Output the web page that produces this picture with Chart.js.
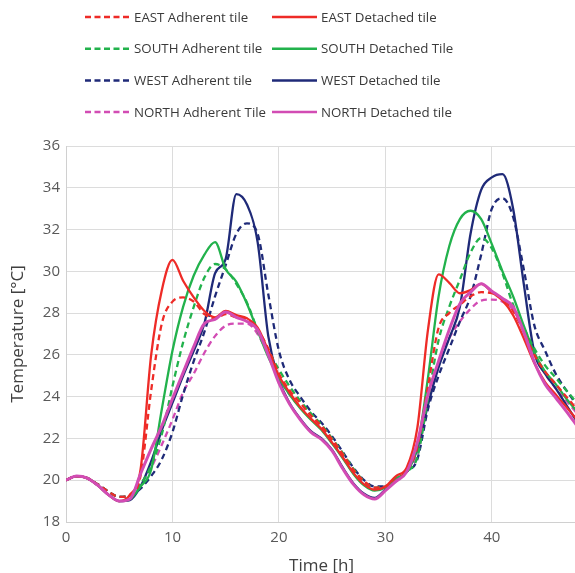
<!DOCTYPE html>
<html>
<head>
<meta charset="utf-8">
<script src="https://cdn.jsdelivr.net/npm/chart.js@4/dist/chart.umd.min.js"></script>
<style>
  html, body { margin: 0; padding: 0; background: #fff; overflow: hidden; }
  #wrap { position: relative; width: 577px; height: 580px; }
</style>
</head>
<body>
<div id="wrap"><canvas id="tempChart"></canvas></div>
<script>
// hours 0..48
const hours = Array.from({ length: 49 }, (_, i) => i);

const eastAdherent = [20.0, 20.2, 20.1, 19.8, 19.45, 19.2, 19.3, 20.2, 24.3, 27.5, 28.55, 28.75, 28.55, 27.95, 27.75, 27.95, 27.8, 27.7, 27.2, 26.3, 25.1, 24.3, 23.7, 23.1, 22.6, 21.95, 21.25, 20.5, 19.95, 19.65, 19.7, 20.0, 20.45, 21.6, 24.5, 27.3, 28.0, 28.4, 28.8, 29.0, 28.95, 28.7, 28.1, 27.1, 26.0, 25.2, 24.6, 24.0, 23.4];
const eastDetached = [20.0, 20.2, 20.1, 19.75, 19.3, 19.0, 19.3, 20.5, 26.0, 29.1, 30.55, 29.55, 28.75, 28.1, 27.8, 28.1, 27.9, 27.75, 27.3, 26.2, 25.0, 24.2, 23.5, 22.95, 22.45, 21.8, 21.1, 20.35, 19.8, 19.55, 19.7, 20.2, 20.6, 22.5, 27.2, 29.85, 29.45, 28.95, 29.1, 29.4, 29.0, 28.6, 27.9, 26.8, 25.6, 24.7, 24.1, 23.5, 22.9];
const southAdherent = [20.0, 20.2, 20.1, 19.8, 19.45, 19.2, 19.25, 19.8, 20.7, 22.2, 24.5, 26.6, 28.3, 29.7, 30.35, 30.1, 29.4, 28.5, 27.2, 26.2, 25.3, 24.5, 23.8, 23.2, 22.65, 22.0, 21.3, 20.55, 19.95, 19.65, 19.7, 20.0, 20.4, 21.1, 23.9, 26.7, 28.3, 29.6, 30.9, 31.6, 31.1, 29.9, 28.4, 27.3, 26.3, 25.5, 24.9, 24.3, 23.7];
const southDetached = [20.0, 20.2, 20.1, 19.75, 19.3, 19.0, 19.1, 19.7, 20.5, 23.4, 26.2, 28.3, 29.8, 30.8, 31.4, 30.1, 29.5, 28.45, 27.15, 25.9, 24.9, 24.1, 23.45, 22.9, 22.4, 21.75, 21.05, 20.3, 19.75, 19.5, 19.65, 20.1, 20.4, 21.6, 24.9, 28.8, 31.2, 32.5, 32.9, 32.5, 31.3, 30.0, 28.8, 27.4, 26.1, 25.2, 24.6, 23.9, 23.3];
const westAdherent = [20.0, 20.2, 20.1, 19.8, 19.45, 19.2, 19.25, 19.6, 20.2, 21.0, 22.3, 24.1, 25.7, 27.1, 28.8, 30.3, 31.8, 32.3, 31.8, 28.9, 26.2, 24.8, 24.0, 23.3, 22.75, 22.1, 21.35, 20.6, 20.0, 19.7, 19.7, 20.0, 20.4, 21.0, 23.4, 25.0, 26.3, 27.6, 28.8, 30.8, 33.0, 33.5, 32.6, 30.1, 27.4, 26.2, 25.1, 24.3, 23.6];
const westDetached = [20.0, 20.2, 20.1, 19.75, 19.3, 19.0, 19.05, 19.7, 20.9, 22.4, 23.7, 25.0, 26.2, 27.5, 29.9, 30.6, 33.7, 33.2, 31.4, 26.9, 24.8, 23.7, 22.95, 22.35, 22.0, 21.45, 20.6, 19.85, 19.35, 19.15, 19.55, 20.0, 20.4, 21.5, 23.6, 25.4, 26.8, 28.3, 31.8, 33.9, 34.5, 34.65, 33.0, 29.4, 26.1, 25.1, 24.4, 23.6, 22.8];
const northAdherent = [20.0, 20.2, 20.1, 19.8, 19.45, 19.2, 19.25, 19.8, 20.6, 21.7, 22.9, 24.2, 25.1, 26.1, 26.9, 27.4, 27.5, 27.5, 27.0, 26.0, 24.9, 24.1, 23.5, 22.95, 22.5, 21.85, 21.15, 20.45, 19.9, 19.6, 19.65, 20.0, 20.4, 21.2, 23.8, 25.6, 26.8, 27.6, 28.2, 28.6, 28.65, 28.55, 28.15, 27.2, 26.0, 25.1, 24.4, 23.8, 23.2];
const northDetached = [20.0, 20.2, 20.1, 19.75, 19.3, 19.0, 19.1, 20.3, 21.5, 22.6, 23.9, 25.15, 26.4, 27.5, 27.7, 28.05, 27.8, 27.6, 27.2, 26.0, 24.65, 23.65, 22.9, 22.3, 21.95, 21.4, 20.55, 19.8, 19.3, 19.1, 19.5, 19.95, 20.4, 21.8, 24.1, 25.7, 27.2, 28.45, 29.0, 29.4, 29.05, 28.7, 28.3, 27.1, 25.65, 24.6, 23.95, 23.3, 22.6];

const seriesLabels = [
  "EAST Adherent tile", "EAST Detached tile",
  "SOUTH Adherent tile", "SOUTH Detached Tile",
  "WEST Adherent tile", "WEST Detached tile",
  "NORTH Adherent Tile", "NORTH Detached tile",
];
const seriesValues = [eastAdherent, eastDetached, southAdherent, southDetached,
  westAdherent, westDetached, northAdherent, northDetached];

const RED = "#ee2b27", GREEN = "#22b24c", NAVY = "#1f2a78", PINK = "#d24cb4";
const seriesColors = [RED, RED, GREEN, GREEN, NAVY, NAVY, PINK, PINK];

const datasets = seriesValues.map((vals, i) => {
  const dashed = i % 2 === 0;
  return {
    label: seriesLabels[i],
    data: vals,
    borderColor: seriesColors[i],
    backgroundColor: seriesColors[i],
    borderWidth: i === 7 ? 3 : 2.3,
    borderDash: dashed ? [6, 4] : [],
    pointRadius: 0,
    cubicInterpolationMode: "monotone",
    fill: false,
    order: i === 7 ? -1 : 1,
  };
});

// two-column legend like the original figure
const gridLegend = {
  id: "gridLegend",
  afterDraw(chart) {
    const ctx = chart.ctx;
    ctx.save();
    ctx.font = "13.3px 'Open Sans'";
    ctx.textBaseline = "middle";
    chart.data.datasets.forEach((ds, i) => {
      const col = i % 2;
      const row = Math.floor(i / 2);
      const x0 = col ? 272 : 85;
      const y = 17 + row * 31.7;
      ctx.strokeStyle = ds.borderColor;
      ctx.lineWidth = 2.5;
      ctx.setLineDash(ds.borderDash.length ? [6, 3.5] : []);
      ctx.beginPath();
      ctx.moveTo(x0, y);
      ctx.lineTo(x0 + 45, y);
      ctx.stroke();
      ctx.setLineDash([]);
      ctx.fillStyle = "#3a3a3a";
      ctx.fillText(ds.label, x0 + 49, y + 1);
    });
    ctx.restore();
  },
};

new Chart(document.getElementById("tempChart"), {
  type: "line",
  data: { labels: hours, datasets },
  plugins: [gridLegend],
  options: {
    responsive: true,
    maintainAspectRatio: false,
    animation: false,
    layout: { padding: { top: 146, right: 0, left: 0, bottom: 0 } },
    plugins: { legend: { display: false }, tooltip: { enabled: false } },
    scales: {
      x: {
        type: "linear",
        min: 0,
        max: 48,
        afterBuildTicks(scale) {
          scale.ticks = scale.ticks.filter((t) => t.value % 10 === 0);
        },
        afterFit(scale) { scale.height = 58; },
        ticks: { stepSize: 10, color: "#595959", font: { family: "Open Sans", size: 15 }, padding: 7, maxRotation: 0 },
        grid: { color: "#dcdcdc", drawTicks: false },
        border: { color: "#d0d0d0" },
        title: { display: true, text: "Time [h]", color: "#404040", font: { family: "Open Sans", size: 17 }, padding: { top: 4, bottom: 4 } },
      },
      y: {
        min: 18,
        max: 36,
        afterFit(scale) { scale.width = 66; },
        ticks: { stepSize: 2, color: "#595959", font: { family: "Open Sans", size: 15 }, padding: 6 },
        grid: { color: "#dcdcdc", drawTicks: false },
        border: { color: "#d0d0d0" },
        title: { display: true, text: "Temperature [°C]", color: "#404040", font: { family: "Open Sans", size: 17 }, padding: { top: 8, bottom: 0 } },
      },
    },
  },
});
</script>
</body>
</html>
